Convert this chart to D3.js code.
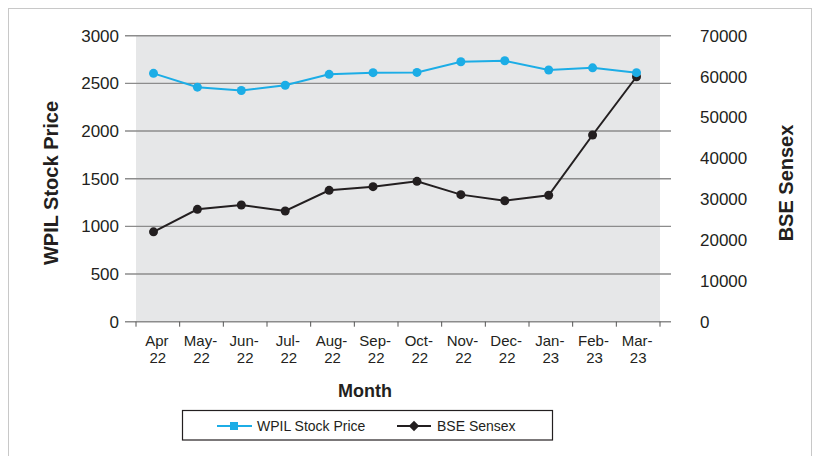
<!DOCTYPE html>
<html>
<head>
<meta charset="utf-8">
<script src="https://cdn.jsdelivr.net/npm/d3@7"></script>
<style>
  body { margin: 0; background: #fff; }
  svg { display: block; font-family: "Liberation Sans", Arial, sans-serif; }
</style>
</head>
<body>
<div id="chart"></div>
<script>
// Hard coded values
const months = ["Apr-22", "May-22", "Jun-22", "Jul-22", "Aug-22", "Sep-22",
                "Oct-22", "Nov-22", "Dec-22", "Jan-23", "Feb-23", "Mar-23"];
const monthLines = [["Apr", "22"], ["May-", "22"], ["Jun-", "22"], ["Jul-", "22"],
                    ["Aug-", "22"], ["Sep-", "22"], ["Oct-", "22"], ["Nov-", "22"],
                    ["Dec-", "22"], ["Jan-", "23"], ["Feb-", "23"], ["Mar-", "23"]];
const wpil = [2605, 2460, 2425, 2480, 2595, 2612, 2615, 2727, 2737, 2640, 2663, 2612];
const sensex = [22000, 27500, 28550, 27100, 32150, 33050, 34350, 31100, 29600, 30950, 45700, 59950];
const leftTicks = [0, 500, 1000, 1500, 2000, 2500, 3000];
const rightTicks = [0, 10000, 20000, 30000, 40000, 50000, 60000, 70000];

function init() {
    const w = 817, h = 456;
    const left = 136, right = 660, top = 35.7, bottom = 321.7;
    const blue = "#1cade6", dark = "#231f20", grid = "#8c8c8c";

    const svg = d3.select("#chart").append("svg")
        .attr("width", w).attr("height", h);

    // outer frame
    svg.append("rect")
        .attr("x", 8.5).attr("y", 8.5)
        .attr("width", 803).attr("height", 460)
        .attr("fill", "none").attr("stroke", "#c8c8c8");

    const xBand = d3.scaleBand().domain(months).range([left, right]);
    const xPoint = d3.scalePoint().domain(months).range([153.5, 636.5]);
    const yLeft = d3.scaleLinear().domain([0, 3000]).range([bottom, top]);
    const yRight = d3.scaleLinear().domain([0, 70000]).range([bottom, top]);

    svg.append("rect")
        .attr("x", left).attr("y", top)
        .attr("width", right - left).attr("height", bottom - top)
        .attr("fill", "#e6e7e8");

    // gridlines
    svg.append("g").selectAll("line")
        .data(leftTicks)
        .enter().append("line")
        .attr("x1", 125).attr("x2", 671)
        .attr("y1", d => yLeft(d)).attr("y2", d => yLeft(d))
        .attr("stroke", grid).attr("stroke-width", 1.4);

    // x ticks
    const tickPos = months.map(m => xBand(m)).concat([right]);
    svg.append("g").selectAll("line")
        .data(tickPos)
        .enter().append("line")
        .attr("x1", d => d).attr("x2", d => d)
        .attr("y1", bottom).attr("y2", bottom + 5)
        .attr("stroke", "#555").attr("stroke-width", 1);

    // left tick labels
    svg.append("g").selectAll("text")
        .data(leftTicks)
        .enter().append("text")
        .attr("x", 119).attr("y", d => yLeft(d))
        .attr("dy", "0.35em").attr("text-anchor", "end")
        .attr("font-size", 17).attr("fill", dark)
        .text(d => d);

    // right tick labels
    svg.append("g").selectAll("text")
        .data(rightTicks)
        .enter().append("text")
        .attr("x", 700).attr("y", d => yRight(d))
        .attr("dy", "0.35em").attr("text-anchor", "start")
        .attr("font-size", 17).attr("fill", dark)
        .text(d => d);

    // month labels
    const ml = svg.append("g").selectAll("text")
        .data(months)
        .enter().append("text")
        .attr("text-anchor", "middle")
        .attr("font-size", 15).attr("fill", dark);
    ml.append("tspan")
        .attr("x", d => xBand(d) + xBand.bandwidth() / 2 - 1)
        .attr("y", 346)
        .text((d, i) => monthLines[i][0]);
    ml.append("tspan")
        .attr("x", d => xBand(d) + xBand.bandwidth() / 2)
        .attr("y", 363)
        .text((d, i) => monthLines[i][1]);

    // titles
    svg.append("text")
        .attr("transform", "translate(58,183) rotate(-90)")
        .attr("text-anchor", "middle")
        .attr("font-size", 20).attr("font-weight", "bold").attr("fill", dark)
        .text("WPIL Stock Price");
    svg.append("text")
        .attr("transform", "translate(793,183) rotate(-90)")
        .attr("text-anchor", "middle")
        .attr("font-size", 20).attr("font-weight", "bold").attr("fill", dark)
        .text("BSE Sensex");
    svg.append("text")
        .attr("x", 365).attr("y", 396.5)
        .attr("text-anchor", "middle")
        .attr("font-size", 18).attr("font-weight", "bold").attr("fill", dark)
        .text("Month");

    // lines
    const wpilLine = d3.line()
        .x((d, i) => xPoint(months[i]))
        .y(d => yLeft(d));
    const sensexLine = d3.line()
        .x((d, i) => xPoint(months[i]))
        .y(d => yRight(d));

    svg.append("path")
        .datum(sensex)
        .attr("d", sensexLine)
        .attr("fill", "none").attr("stroke", dark).attr("stroke-width", 2);
    svg.append("g").selectAll("circle")
        .data(sensex)
        .enter().append("circle")
        .attr("cx", (d, i) => xPoint(months[i]))
        .attr("cy", d => yRight(d))
        .attr("r", 4.5).attr("fill", dark);

    svg.append("path")
        .datum(wpil)
        .attr("d", wpilLine)
        .attr("fill", "none").attr("stroke", blue).attr("stroke-width", 2);
    svg.append("g").selectAll("circle")
        .data(wpil)
        .enter().append("circle")
        .attr("cx", (d, i) => xPoint(months[i]))
        .attr("cy", d => yLeft(d))
        .attr("r", 4.5).attr("fill", blue);

    // legend
    const lg = svg.append("g");
    lg.append("rect")
        .attr("x", 182.5).attr("y", 410.5)
        .attr("width", 370).attr("height", 29.5)
        .attr("fill", "#fff").attr("stroke", dark).attr("stroke-width", 1.2);
    const ly = 426;
    lg.append("line").attr("x1", 217).attr("x2", 252).attr("y1", ly).attr("y2", ly)
        .attr("stroke", blue).attr("stroke-width", 2);
    lg.append("rect").attr("x", 230).attr("y", ly - 4).attr("width", 8).attr("height", 8)
        .attr("fill", blue);
    lg.append("text").attr("x", 257).attr("y", ly).attr("dy", "0.35em")
        .attr("font-size", 14).attr("fill", dark).text("WPIL Stock Price");
    lg.append("line").attr("x1", 397).attr("x2", 431).attr("y1", ly).attr("y2", ly)
        .attr("stroke", dark).attr("stroke-width", 2);
    lg.append("path")
        .attr("d", d3.symbol(d3.symbolDiamond2, 70)())
        .attr("transform", `translate(414,${ly})`)
        .attr("fill", dark);
    lg.append("text").attr("x", 437).attr("y", ly).attr("dy", "0.35em")
        .attr("font-size", 14).attr("fill", dark).text("BSE Sensex");
}

window.onload = init;
</script>
</body>
</html>
